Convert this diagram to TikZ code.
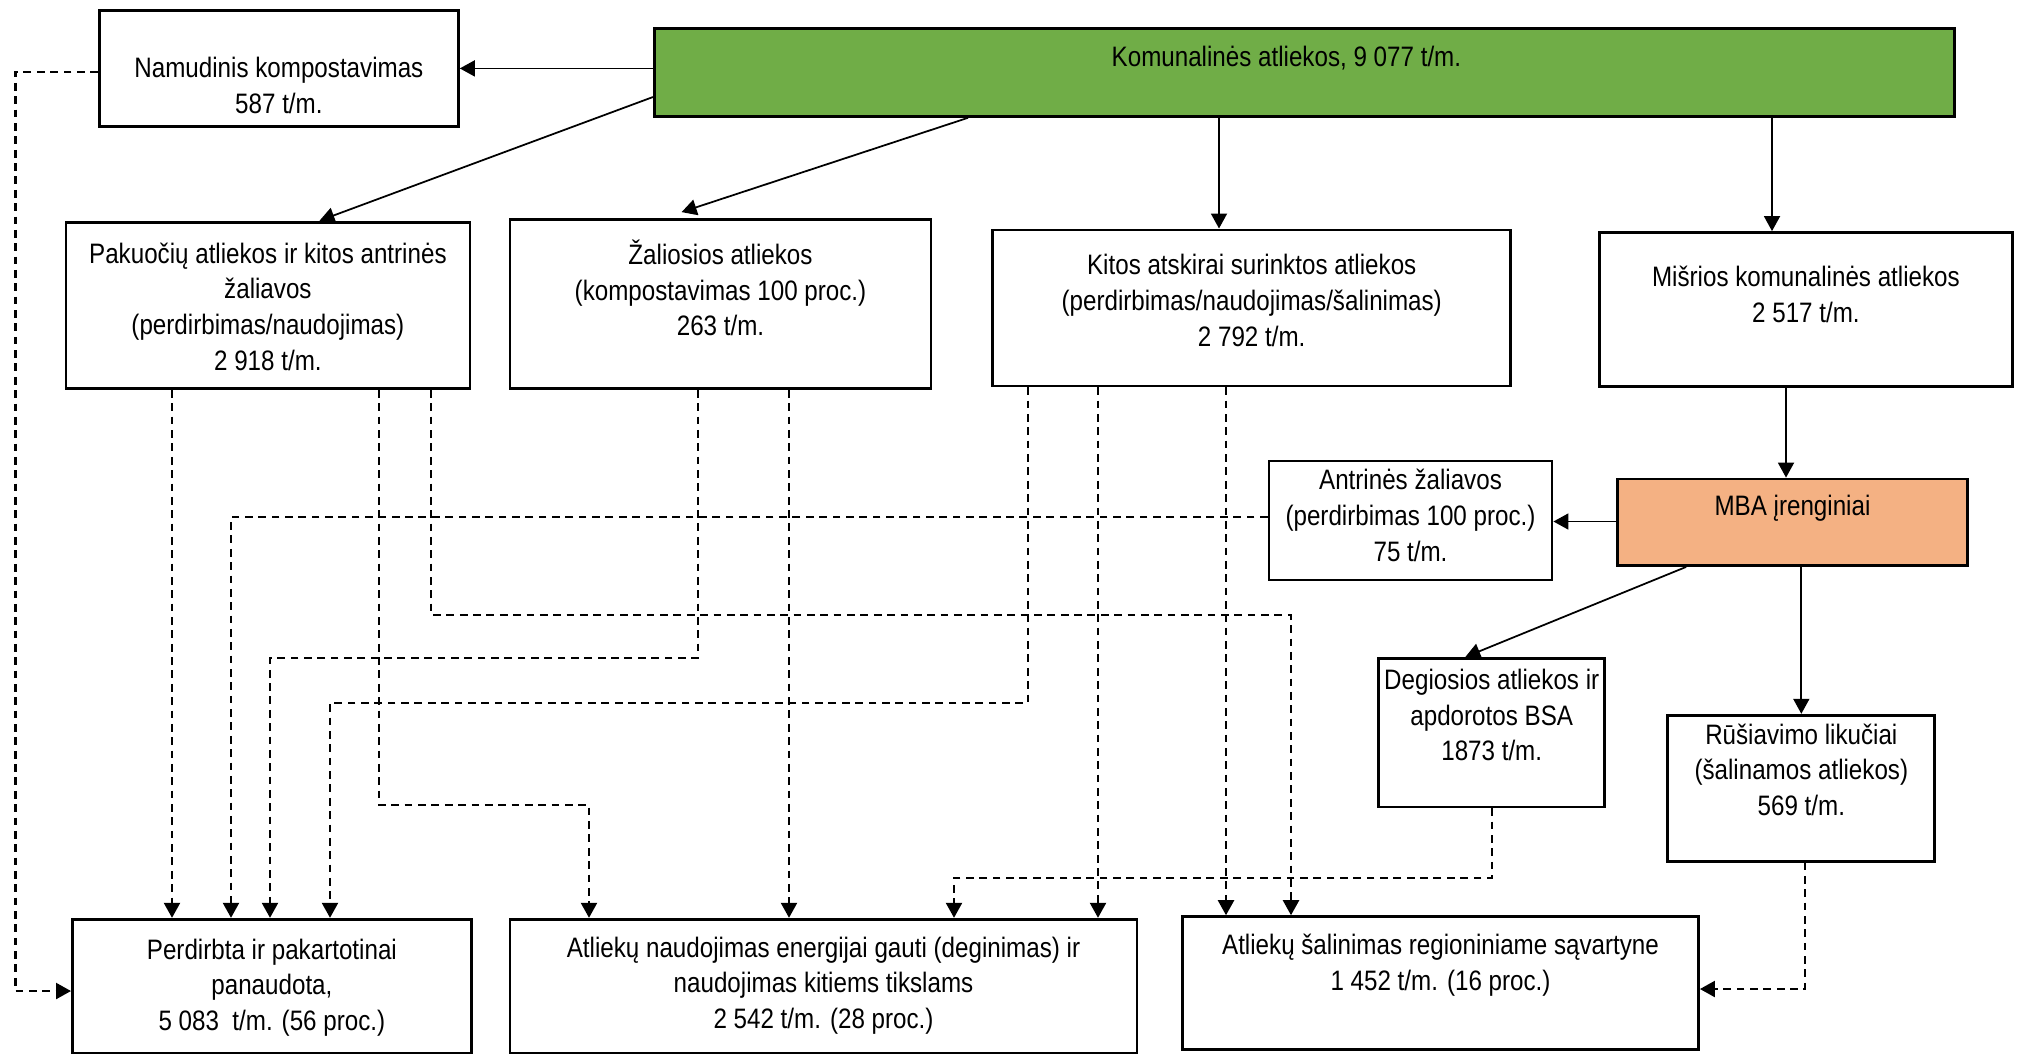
\documentclass[tikz,border=0pt]{standalone}
\usepackage{fontspec}
\setmainfont{Liberation Sans}[FakeStretch=0.86]
\usepackage{tikz}
\usetikzlibrary{arrows.meta,calc,positioning}
\definecolor{komgreen}{HTML}{70AD47}
\definecolor{mbaorange}{HTML}{F4B183}
% width, height, top gap, text
\newcommand\boxtext[4]{\parbox[c][#2][t]{#1}{\centering\vspace*{#3}\strut #4}}

\begin{document}
\begin{tikzpicture}[
  font=\fontsize{8pt}{10.15pt}\selectfont,
  box/.style={draw, line width=0.8pt, inner sep=0pt, anchor=north west},
  arr/.style={-{Triangle[length=1.5mm,width=1.6mm]}, line width=0.5pt},
  dsh/.style={arr, line width=0.65pt, dash pattern=on 2.2pt off 1.6pt}]
\useasboundingbox (0,0) rectangle (20.24,-10.53);

\node[box, fill=komgreen] (kom) at (6.53,-0.27) {\boxtext{13cm}{0.88cm}{0.13cm}{Komunalinės atliekos, 9 077 t/m.\hspace{0.36cm}\mbox{}}};
\node[box] (nam) at (0.98,-0.09) {\boxtext{3.59cm}{1.16cm}{0.42cm}{Namudinis kompostavimas\\587 t/m.}};
\node[box] (pak) at (0.645,-2.207) {\boxtext{4.04cm}{1.665cm}{0.16cm}{Pakuočių atliekos ir kitos antrinės\\žaliavos\\(perdirbimas/naudojimas)\\2 918 t/m.}};
\node[box] (zal) at (5.086,-2.181) {\boxtext{4.21cm}{1.69cm}{0.20cm}{Žaliosios atliekos\\(kompostavimas 100 proc.)\\263 t/m.}};
\node[box] (kit) at (9.913,-2.285) {\boxtext{5.18cm}{1.56cm}{0.20cm}{Kitos atskirai surinktos atliekos\\(perdirbimas/naudojimas/šalinimas)\\2 792 t/m.}};
\node[box] (mis) at (15.98,-2.311) {\boxtext{4.13cm}{1.536cm}{0.29cm}{Mišrios komunalinės atliekos\\2 517 t/m.}};
\node[box] (ant) at (12.676,-4.595) {\boxtext{2.83cm}{1.19cm}{0.04cm}{Antrinės žaliavos\\(perdirbimas 100 proc.)\\75 t/m.}};
\node[box, fill=mbaorange] (mba) at (16.161,-4.776) {\boxtext{3.5cm}{0.865cm}{0.12cm}{MBA įrenginiai}};
\node[box] (deg) at (13.773,-6.57) {\boxtext{2.26cm}{1.485cm}{0.06cm}{Degiosios atliekos ir\\apdorotos BSA\\1873 t/m.}};
\node[box] (rus) at (16.664,-7.138) {\boxtext{2.67cm}{1.46cm}{0.04cm}{Rūšiavimo likučiai\\(šalinamos atliekos)\\569 t/m.}};
\node[box] (per) at (0.71,-9.178) {\boxtext{3.99cm}{1.34cm}{0.15cm}{Perdirbta ir pakartotinai\\panaudota,\\5 083~ t/m. (56 proc.)}};
\node[box] (nau) at (5.086,-9.178) {\boxtext{6.27cm}{1.34cm}{0.13cm}{Atliekų naudojimas energijai gauti (deginimas) ir\\naudojimas kitiems tikslams\\2 542 t/m. (28 proc.)}};
\node[box] (sal) at (11.811,-9.152) {\boxtext{5.16cm}{1.33cm}{0.13cm}{Atliekų šalinimas regioniniame sąvartyne\\1 452 t/m. (16 proc.)}};

\draw[arr] (kom.west |- nam.east) -- (nam.east);
\draw[arr] ([yshift=-0.70cm]kom.north west) -- ([xshift=2.55cm]pak.north west);
\draw[arr] ([xshift=3.15cm]kom.south west) -- ([xshift=1.73cm,yshift=0.06cm]zal.north west);
\draw[arr] (kom.south -| 12.19,0) -- (kit.north -| 12.19,0);
\draw[arr] (kom.south -| 17.72,0) -- (mis.north -| 17.72,0);
\draw[arr] (mis.south -| 17.86,0) -- (mba.north -| 17.86,0);
\draw[arr] (mba.west |- 0,-5.215) -- (ant.east |- 0,-5.215);
\draw[arr] ([xshift=0.70cm]mba.south west) -- ([xshift=0.88cm]deg.north west);
\draw[arr] (mba.south -| rus.north) -- (rus.north);

\draw[dsh] (nam.west |- 0,-0.72) -| (0.155,-9.91) -- (per.west |- 0,-9.91);
\draw[dsh] (pak.south -| 1.72,0) -- (per.north -| 1.72,0);
\draw[dsh] (pak.south -| 3.79,0) |- (5.89,-8.05) -- (nau.north -| 5.89,0);
\draw[dsh] (pak.south -| 4.31,0) |- (12.91,-6.15) -- (sal.north -| 12.91,0);
\draw[dsh] (zal.south -| 6.98,0) |- (2.70,-6.58) -- (per.north -| 2.70,0);
\draw[dsh] (zal.south -| 7.89,0) -- (nau.north -| 7.89,0);
\draw[dsh] (kit.south -| 10.28,0) |- (3.30,-7.03) -- (per.north -| 3.30,0);
\draw[dsh] (kit.south -| 10.98,0) -- (nau.north -| 10.98,0);
\draw[dsh] (kit.south -| 12.26,0) -- (sal.north -| 12.26,0);
\draw[dsh] (ant.west |- 0,-5.17) -| (per.north -| 2.31,0);
\draw[dsh] (deg.south) |- (9.54,-8.78) -- (nau.north -| 9.54,0);
\draw[dsh] (rus.south -| 18.05,0) |- (sal.east |- 0,-9.89);
\end{tikzpicture}
\end{document}
